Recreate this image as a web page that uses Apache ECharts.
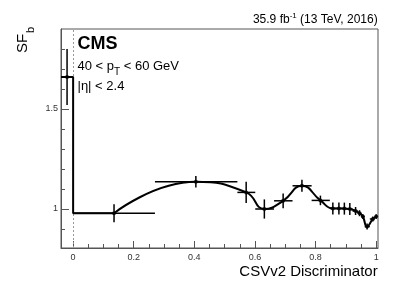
<!DOCTYPE html>
<html><head><meta charset="utf-8">
<script src="https://cdn.jsdelivr.net/npm/echarts@6/dist/echarts.min.js"></script>
<style>html,body{margin:0;padding:0;background:#fff}#c{width:407px;height:293px}</style>
</head><body><div id="c"></div>
<script>
// ---- data ----
const binLow    = [-0.040, 0.000, 0.270, 0.542, 0.601, 0.663, 0.724, 0.787, 0.847, 0.867, 0.886, 0.904, 0.922, 0.939, 0.951, 0.962, 0.979, 0.995];
const binHigh   = [ 0.000, 0.270, 0.542, 0.601, 0.663, 0.724, 0.787, 0.847, 0.867, 0.886, 0.904, 0.922, 0.939, 0.951, 0.962, 0.979, 0.995, 1.004];
const binCenter = [-0.020, 0.135, 0.405, 0.571, 0.631, 0.693, 0.755, 0.816, 0.857, 0.877, 0.895, 0.913, 0.932, 0.945, 0.956, 0.970, 0.989, 1.000];
const sfValue   = [ 1.660, 0.979, 1.136, 1.083, 1.000, 1.041, 1.116, 1.043, 1.003, 1.003, 1.002, 1.000, 0.990, 0.979, 0.962, 0.912, 0.950, 0.962];
const sfError   = [ 0.140, 0.045, 0.029, 0.053, 0.048, 0.037, 0.030, 0.024, 0.030, 0.030, 0.030, 0.030, 0.020, 0.015, 0.012, 0.015, 0.012, 0.012];
const xMajorTicks = [0, 0.2, 0.4, 0.6, 0.8, 1];
const xMinorTicks = [0.05, 0.1, 0.15, 0.25, 0.3, 0.35, 0.45, 0.5, 0.55, 0.65, 0.7, 0.75, 0.85, 0.9, 0.95];
const yMajorTicks = [1, 1.5];
const yMinorTicks = [0.9, 1.1, 1.2, 1.3, 1.4, 1.6, 1.7, 1.8];

const FONT = '"Liberation Sans", Arial, Helvetica, sans-serif';
const AX = '#555';

const points = binCenter.map((x, i) => [x, sfValue[i]]);
const errRows = binCenter.map((x, i) => [x, sfValue[i], binLow[i], binHigh[i], sfError[i]]);
const stepLine = [[binLow[0], sfValue[0]], [binHigh[0], sfValue[0]], [binHigh[0], sfValue[1]], [binCenter[1], sfValue[1]]];
const curve = points.slice(1);

const fmt = v => String(+(+v).toFixed(2));

// text width helper for composing super/subscripts
const mctx = document.createElement('canvas').getContext('2d');
function tw(t, f) { mctx.font = f; return mctx.measureText(t).width; }

const F12 = '12px ' + FONT, F8 = '8px ' + FONT, F13 = '13px ' + FONT, F10 = '10px ' + FONT;
const lumiRight = ' (13 TeV, 2016)', lumiSup = '-1', lumiLeft = '35.9 fb';
const RX = 377.7;
const supRight = RX - tw(lumiRight, F12);
const supLeft = supRight - tw(lumiSup, F8);
const ptA = '40 < p', ptSub = 'T', ptB = ' < 60 GeV';
const ptX0 = 77.5;
const ptX1 = ptX0 + tw(ptA, F13);
const ptX2 = ptX1 + tw(ptSub, F10);

const chart = echarts.init(document.getElementById('c'), null, {renderer: 'canvas'});
chart.setOption({
  animation: false,
  backgroundColor: '#fff',
  grid: {left: 61, right: 29, top: 29, bottom: 45, show: true, borderColor: AX, borderWidth: 1, backgroundColor: 'transparent'},
  xAxis: [
    {type: 'value', min: -0.04, max: 1.006, gridIndex: 0, position: 'bottom',
     splitLine: {show: false},
     axisLine: {show: true, onZero: false, lineStyle: {color: AX, width: 1}},
     axisTick: {show: true, inside: true, length: 7, customValues: xMajorTicks, lineStyle: {color: AX}},
     axisLabel: {show: true, customValues: xMajorTicks, formatter: fmt, margin: 5, fontSize: 9, color: '#333', fontFamily: FONT}},
    {type: 'value', min: -0.04, max: 1.006, gridIndex: 0, position: 'bottom', offset: 0,
     splitLine: {show: false},
     axisLine: {show: false, onZero: false},
     axisTick: {show: true, inside: true, length: 4, customValues: xMinorTicks, lineStyle: {color: AX}},
     axisLabel: {show: false}}
  ],
  yAxis: [
    {type: 'value', min: 0.805, max: 1.9, gridIndex: 0, position: 'left',
     splitLine: {show: false},
     axisLine: {show: true, onZero: false, lineStyle: {color: AX, width: 1}},
     axisTick: {show: true, inside: true, length: 8, customValues: yMajorTicks, lineStyle: {color: AX}},
     axisLabel: {show: true, customValues: yMajorTicks, formatter: fmt, margin: 3, fontSize: 9, color: '#333', fontFamily: FONT}},
    {type: 'value', min: 0.805, max: 1.9, gridIndex: 0, position: 'left', offset: 0,
     splitLine: {show: false},
     axisLine: {show: false, onZero: false},
     axisTick: {show: true, inside: true, length: 4, customValues: yMinorTicks, lineStyle: {color: AX}},
     axisLabel: {show: false}}
  ],
  series: [
    {type: 'line', data: stepLine, xAxisIndex: 0, yAxisIndex: 0, symbol: 'none', z: 3,
     lineStyle: {color: '#000', width: 2},
     markLine: {silent: true, symbol: 'none', label: {show: false},
       lineStyle: {color: '#999', type: [2, 2], width: 1},
       data: [{xAxis: 0}], z: 1}},
    {type: 'line', data: curve, xAxisIndex: 0, yAxisIndex: 0, symbol: 'none', smooth: 0.5, z: 3,
     lineStyle: {color: '#000', width: 2}},
    {type: 'custom', data: errRows, xAxisIndex: 0, yAxisIndex: 0, z: 4,
     renderItem: function (params, api) {
       const x = api.value(0), y = api.value(1), lo = api.value(2), hi = api.value(3), e = api.value(4);
       const pL = api.coord([lo, y]), pR = api.coord([hi, y]);
       const pT = api.coord([x, y + e]), pB = api.coord([x, y - e]);
       const st = {stroke: '#000', lineWidth: 1.5};
       return {type: 'group', children: [
         {type: 'line', shape: {x1: pL[0], y1: pL[1], x2: pR[0], y2: pR[1]}, style: st},
         {type: 'line', shape: {x1: pT[0], y1: pT[1], x2: pB[0], y2: pB[1]}, style: st}
       ]};
     }},
    {type: 'scatter', data: points, xAxisIndex: 0, yAxisIndex: 0, symbol: 'circle', symbolSize: 4, z: 5,
     itemStyle: {color: '#000'}}
  ],
  graphic: [
    {type: 'text', x: RX, y: 20, style: {text: lumiRight, textAlign: 'right', textVerticalAlign: 'middle', font: F12, fill: '#000'}},
    {type: 'text', x: supRight, y: 15.5, style: {text: lumiSup, textAlign: 'right', textVerticalAlign: 'middle', font: F8, fill: '#000'}},
    {type: 'text', x: supLeft, y: 20, style: {text: lumiLeft, textAlign: 'right', textVerticalAlign: 'middle', font: F12, fill: '#000'}},
    {type: 'text', x: 22.5, y: 53, rotation: Math.PI / 2, style: {text: 'SF', textAlign: 'left', textVerticalAlign: 'middle', font: '15px ' + FONT, fill: '#000'}},
    {type: 'text', x: 30.5, y: 33, rotation: Math.PI / 2, style: {text: 'b', textAlign: 'left', textVerticalAlign: 'middle', font: '11px ' + FONT, fill: '#000'}},
    {type: 'text', x: RX, y: 272, style: {text: 'CSVv2 Discriminator', textAlign: 'right', textVerticalAlign: 'middle', font: '15px ' + FONT, fill: '#000'}},
    {type: 'text', x: 77.5, y: 44, style: {text: 'CMS', textAlign: 'left', textVerticalAlign: 'middle', font: 'bold 18px ' + FONT, fill: '#000'}},
    {type: 'text', x: ptX0, y: 66, style: {text: ptA, textAlign: 'left', textVerticalAlign: 'middle', font: F13, fill: '#000'}},
    {type: 'text', x: ptX1, y: 72, style: {text: ptSub, textAlign: 'left', textVerticalAlign: 'middle', font: F10, fill: '#000'}},
    {type: 'text', x: ptX2, y: 66, style: {text: ptB, textAlign: 'left', textVerticalAlign: 'middle', font: F13, fill: '#000'}},
    {type: 'text', x: 77.5, y: 86.5, style: {text: '|η| < 2.4', textAlign: 'left', textVerticalAlign: 'middle', font: F13, fill: '#000'}}
  ]
});
</script></body></html>
